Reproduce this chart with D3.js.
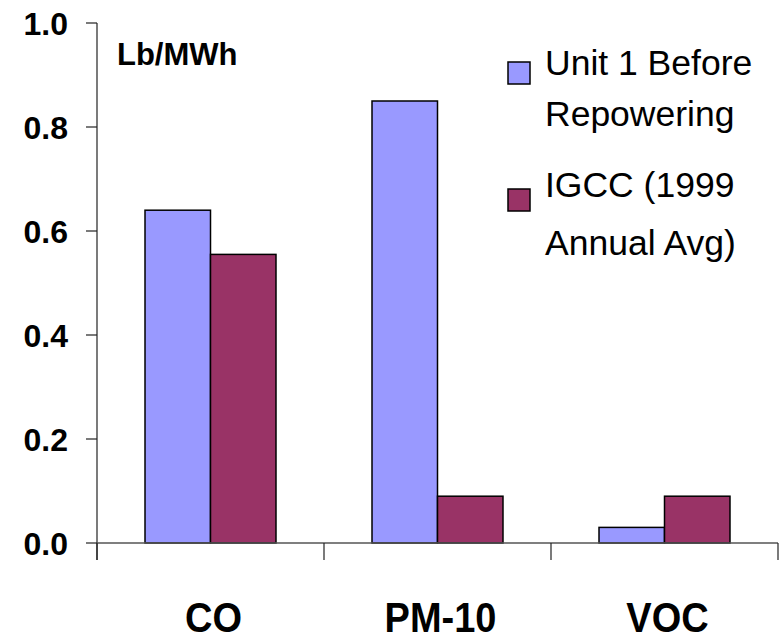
<!DOCTYPE html>
<html>
<head>
<meta charset="utf-8">
<script src="https://cdn.jsdelivr.net/npm/d3@7"></script>
<style>
  body { margin: 0; background: #fff; }
  svg text { font-family: 'Liberation Sans', Arial, sans-serif; fill: #000; }
</style>
</head>
<body>
<svg id="chart" width="782" height="639"></svg>
<script>
// data
var categories = ['CO', 'PM-10', 'VOC'],
    seriesNames = ['Unit 1 Before Repowering', 'IGCC (1999 Annual Avg)'],
    unit1Values = [0.64, 0.85, 0.03],
    igccValues = [0.555, 0.09, 0.09],
    yTicks = [0, 0.2, 0.4, 0.6, 0.8, 1.0],
    legendLines = [['Unit 1 Before', 'Repowering'], ['IGCC (1999', 'Annual Avg)']],
    colors = ['#9999ff', '#993366'];

var svg = d3.select('#chart'),
    plotL = 97, plotR = 778, plotT = 23, plotB = 543;

var x = d3.scaleBand().domain(categories).range([plotL, plotR]),
    xSub = d3.scaleBand().domain(seriesNames).range([0, x.bandwidth()]).paddingOuter(0.733),
    y = d3.scaleLinear().domain([0, 1]).range([plotB, plotT]);

var rows = categories.map(function(c, i) {
  return { cat: c, vals: [unit1Values[i], igccValues[i]] };
});

//
// y axis
svg.append('line')
  .attr('x1', plotL).attr('x2', plotL).attr('y1', plotT).attr('y2', plotB + 17)
  .attr('stroke', '#222').attr('stroke-width', 1.2);
svg.selectAll('.y-tick').data(yTicks).enter()
  .append('line').attr('class', 'y-tick')
  .attr('x1', plotL - 11).attr('x2', plotL)
  .attr('y1', function(d) { return y(d); })
  .attr('y2', function(d) { return y(d); })
  .attr('stroke', '#222').attr('stroke-width', 1.2);
svg.selectAll('.y-label').data(yTicks).enter()
  .append('text').attr('class', 'y-label')
  .attr('x', 68)
  .attr('y', function(d) { return y(d) + 12; })
  .attr('text-anchor', 'end')
  .attr('font-size', 32).attr('font-weight', 'bold')
  .text(function(d) { return d3.format('.1f')(d); });

//
// bars
var groups = svg.selectAll('.grp').data(rows).enter()
  .append('g').attr('class', 'grp')
  .attr('transform', function(d) { return 'translate(' + x(d.cat) + ',0)'; });
groups.selectAll('rect').data(function(d) { return d.vals; }).enter()
  .append('rect')
  .attr('x', function(d, i) { return xSub(seriesNames[i]); })
  .attr('width', xSub.bandwidth())
  .attr('y', function(d) { return y(d); })
  .attr('height', function(d) { return plotB - y(d); })
  .attr('fill', function(d, i) { return colors[i]; })
  .attr('stroke', '#000').attr('stroke-width', 1.5);

//
// x axis
svg.append('line')
  .attr('x1', plotL).attr('x2', plotR).attr('y1', plotB).attr('y2', plotB)
  .attr('stroke', '#555').attr('stroke-width', 1.5);
svg.selectAll('.x-tick').data(categories.concat(['end'])).enter()
  .append('line').attr('class', 'x-tick')
  .attr('x1', function(d, i) { return plotL + i * x.step(); })
  .attr('x2', function(d, i) { return plotL + i * x.step(); })
  .attr('y1', plotB).attr('y2', plotB + 17)
  .attr('stroke', '#222').attr('stroke-width', 1.2);
svg.selectAll('.x-label').data(categories).enter()
  .append('text').attr('class', 'x-label')
  .attr('transform', function(d) {
    return 'translate(' + (x(d) + x.bandwidth() / 2 + 3) + ',632) scale(1,1.1)'; })
  .attr('text-anchor', 'middle')
  .attr('font-size', 38).attr('font-weight', 'bold')
  .text(function(d) { return d; });

//
// unit label
svg.append('text')
  .attr('x', 117).attr('y', 65)
  .attr('font-size', 31).attr('font-weight', 'bold')
  .text('Lb/MWh');

//
// legend
var legend = svg.selectAll('.legend').data(seriesNames).enter()
  .append('g').attr('class', 'legend')
  .attr('transform', function(d, i) { return 'translate(508,' + (62 + i * 127) + ')'; });
legend.append('rect')
  .attr('width', 22).attr('height', 22)
  .attr('fill', function(d, i) { return colors[i]; })
  .attr('stroke', '#000').attr('stroke-width', 1.5);
legend.append('text')
  .attr('x', 37)
  .attr('y', function(d, i) { return i === 0 ? 13 : 8; })
  .attr('font-size', 35.5)
  .each(function(d, i) {
    var gap = i === 0 ? 51 : 58;
    d3.select(this).selectAll('tspan').data(legendLines[i]).enter()
      .append('tspan')
      .attr('x', 37)
      .attr('dy', function(t, j) { return j === 0 ? 0 : gap; })
      .text(function(t) { return t; });
  });
</script>
</body>
</html>
